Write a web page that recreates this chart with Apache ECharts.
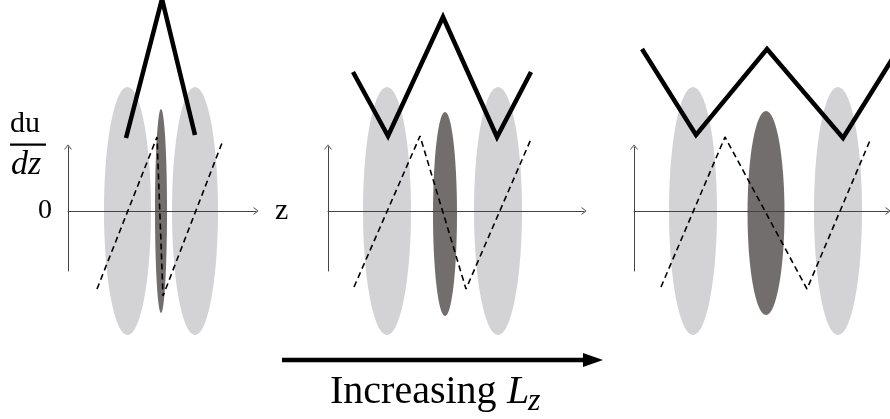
<!DOCTYPE html>
<html>
<head>
<meta charset="utf-8">
<script src="https://cdn.jsdelivr.net/npm/echarts@6/dist/echarts.min.js"></script>
<style>
html, body { margin: 0; padding: 0; background: #fff; }
#chart { width: 890px; height: 419px; }
</style>
</head>
<body>
<div id="chart"></div>
<script>
// Three panels of the same sketch: z along the horizontal axis, du/dz vertically.
const zAxisMax = [18.8, 25.6, 25.4];
const slopeMin = -6;
const slopeMax = 6.4;

// light grey lobes: [z centre, du/dz centre, half-width, half-height]
const lobes1 = [[5.95, 0, 2.35, 12.4], [12.7, 0, 2.3, 12.4]];
const lobes2 = [[5.9, 0, 2.4, 12.4], [17.0, 0, 2.4, 12.4]];
const lobes3 = [[5.9, 0, 2.4, 12.4], [20.4, 0, 2.4, 12.4]];

// dark central core: [z centre, du/dz centre, half-width, half-height]
const core1 = [[9.3, 0, 0.6, 10.2]];
const core2 = [[11.7, -0.3, 1.2, 10.2]];
const core3 = [[13.2, -0.2, 1.85, 10.2]];

// thick profile drawn above each panel: [z, height]
const profile1 = [[5.8, 7.3], [9.4, 21.2], [12.7, 7.6]];
const profile2 = [[2.5, 13.9], [6.0, 7.5], [11.5, 19.4], [16.9, 7.4], [20.3, 13.9]];
const profile3 = [[0.8, 16.2], [6.2, 7.6], [13.3, 16.2], [20.9, 7.3], [26.2, 15.8]];

// dashed du/dz sawtooth: [z, du/dz]
const shear1 = [[2.9, -7.8], [8.9, 7.4], [9.5, -8.5], [15.4, 6.8]];
const shear2 = [[2.6, -7.6], [9.2, 7.5], [13.8, -7.8], [20.3, 7.2]];
const shear3 = [[2.7, -7.6], [9.1, 7.4], [17.3, -7.8], [23.7, 7.3]];

const lobes = [lobes1, lobes2, lobes3];
const cores = [core1, core2, core3];
const profiles = [profile1, profile2, profile3];
const shears = [shear1, shear2, shear3];

const PX_PER_UNIT = 10;
const panelLeft = [68, 328, 634];
const AXIS_COLOR = '#444';
const chevron = 'path://M0,10 L8,0 L16,10 L14.2,10 L8,2.4 L1.8,10 Z';
const SERIF = '"Liberation Serif", "DejaVu Serif", serif';

const chart = echarts.init(document.getElementById('chart'), null, { renderer: 'canvas' });

const grids = [], xAxes = [], yAxes = [], series = [];

function ellipseItem(color) {
  return function (params, api) {
    const c = api.coord([api.value(0), api.value(1)]);
    const rx = api.size([api.value(2), 0])[0];
    const ry = api.size([0, api.value(3)])[1];
    return {
      type: 'ellipse',
      shape: { cx: c[0], cy: c[1], rx: rx, ry: ry },
      style: { fill: color }
    };
  };
}

for (let i = 0; i < 3; i++) {
  grids.push({
    left: panelLeft[i],
    top: 147,
    width: zAxisMax[i] * PX_PER_UNIT,
    height: (slopeMax - slopeMin) * PX_PER_UNIT,
    containLabel: false
  });
  xAxes.push({
    type: 'value',
    gridIndex: i,
    min: 0,
    max: zAxisMax[i],
    name: i === 0 ? 'z' : '',
    nameLocation: 'end',
    nameGap: 19,
    nameTextStyle: { fontFamily: SERIF, fontSize: 30, color: '#000' },
    axisLine: {
      show: true, onZero: true,
      symbol: ['none', chevron], symbolSize: [8, 5],
      lineStyle: { color: AXIS_COLOR, width: 1 }
    },
    axisTick: { show: false },
    axisLabel: { show: false },
    splitLine: { show: false }
  });
  yAxes.push({
    type: 'value',
    gridIndex: i,
    min: slopeMin,
    max: slopeMax,
    interval: 6,
    axisLine: {
      show: true, onZero: true,
      symbol: ['none', chevron], symbolSize: [8, 5],
      lineStyle: { color: AXIS_COLOR, width: 1 }
    },
    axisTick: { show: false },
    axisLabel: {
      show: i === 0,
      margin: 16,
      fontFamily: SERIF, fontSize: 28, color: '#000',
      showMaxLabel: false, showMinLabel: false,
      formatter: function (v) { return v === 0 ? '0' : ''; }
    },
    splitLine: { show: false }
  });

  series.push({
    type: 'custom', name: 'lobes-' + i,
    xAxisIndex: i, yAxisIndex: i, z: -1, clip: false, silent: true,
    encode: { x: 0, y: 1 },
    renderItem: ellipseItem('#d3d2d4'),
    data: lobes[i]
  });
  series.push({
    type: 'custom', name: 'core-' + i,
    xAxisIndex: i, yAxisIndex: i, z: -1, clip: false, silent: true,
    encode: { x: 0, y: 1 },
    renderItem: ellipseItem('#726e6e'),
    data: cores[i]
  });
  series.push({
    type: 'line', name: 'shear-' + i,
    xAxisIndex: i, yAxisIndex: i, z: 3, clip: false, silent: true,
    symbol: 'none',
    lineStyle: { color: '#000', width: 1.6, type: [6, 4] },
    data: shears[i]
  });
  series.push({
    type: 'line', name: 'profile-' + i,
    xAxisIndex: i, yAxisIndex: i, z: 4, clip: false, silent: true,
    symbol: 'none',
    lineStyle: { color: '#000', width: 4.5, join: 'miter', cap: 'butt' },
    data: profiles[i]
  });
}

chart.setOption({
  animation: false,
  backgroundColor: '#fff',
  grid: grids,
  xAxis: xAxes,
  yAxis: yAxes,
  series: series,
  graphic: [
    // du/dz fraction beside the first panel
    { type: 'text', z: 10, style: { text: 'du', x: 10, y: 124, font: '30px ' + SERIF, fill: '#000', align: 'left', verticalAlign: 'middle' } },
    { type: 'rect', z: 10, shape: { x: 10, y: 143.5, width: 36, height: 2.2 }, style: { fill: '#000' } },
    { type: 'text', z: 10, style: { text: 'dz', x: 11, y: 165, font: 'italic 34px ' + SERIF, fill: '#000', align: 'left', verticalAlign: 'middle' } },
    // direction arrow and caption
    { type: 'line', z: 10, shape: { x1: 282, y1: 360, x2: 588, y2: 360 }, style: { stroke: '#000', lineWidth: 4.5 } },
    { type: 'polygon', z: 10, shape: { points: [[583, 353], [603, 360], [583, 367]] }, style: { fill: '#000' } },
    { type: 'text', z: 10, style: { text: 'Increasing ', x: 330, y: 392, font: '40px ' + SERIF, fill: '#000', align: 'left', verticalAlign: 'middle' } },
    { type: 'text', z: 10, style: { text: 'L', x: 507, y: 392, font: 'italic 40px ' + SERIF, fill: '#000', align: 'left', verticalAlign: 'middle' } },
    { type: 'text', z: 10, style: { text: 'z', x: 528, y: 402, font: 'italic 32px ' + SERIF, fill: '#000', align: 'left', verticalAlign: 'middle' } }
  ]
});
</script>
</body>
</html>
